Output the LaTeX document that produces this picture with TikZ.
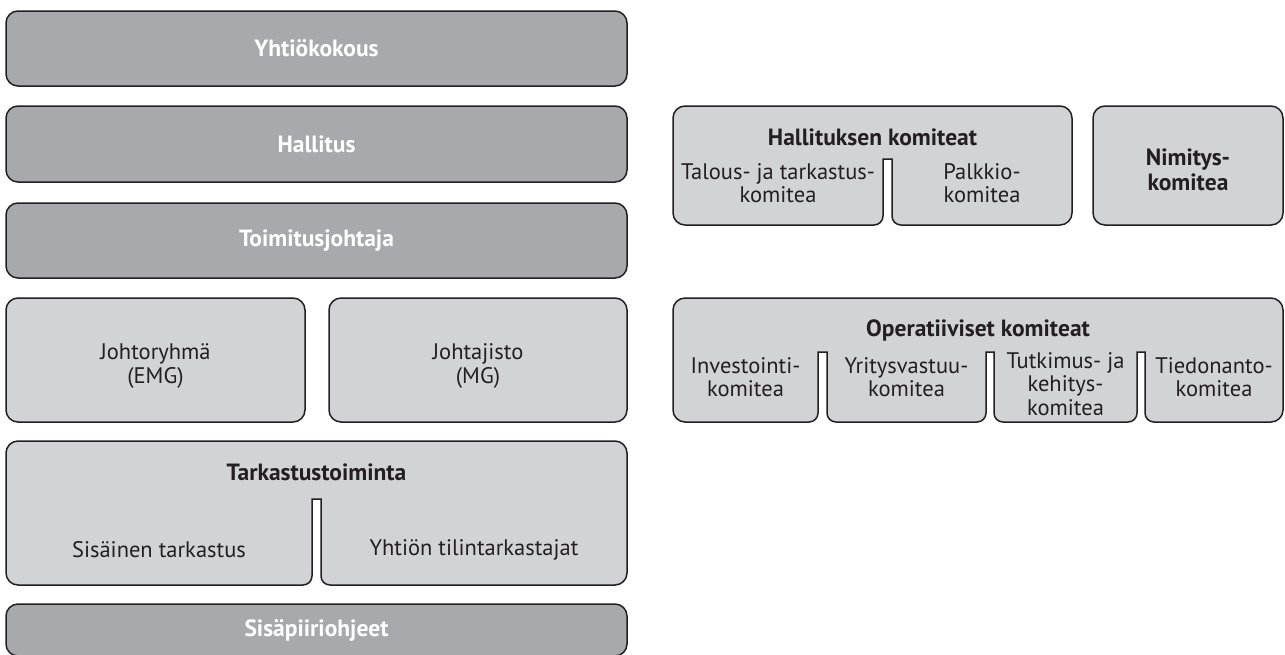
\documentclass[tikz,border=0pt]{standalone}
\usepackage{fontspec}
\setmainfont{PT Sans}
\definecolor{darkfill}{HTML}{A7A9AC}
\definecolor{lightfill}{HTML}{D1D3D4}
\definecolor{edgecol}{HTML}{231F20}
% outline pieces of a box whose lower edge is cut by notches (pixel units, y down)
\newcommand\BoxTop[4]{(#1,#3+12) .. controls (#1,#3+5.4) and (#1+5.4,#3) .. (#1+12,#3) -- (#2-12,#3) .. controls (#2-5.4,#3) and (#2,#3+5.4) .. (#2,#3+12) -- (#2,#4-12) .. controls (#2,#4-5.4) and (#2-5.4,#4) .. (#2-12,#4)}
\newcommand\BoxNotch[4]{-- (#2+9,#4) .. controls (#2+4,#4) and (#2,#4-4) .. (#2,#4-9) -- (#2,#3) -- (#1,#3) -- (#1,#4-9) .. controls (#1,#4-4) and (#1-4,#4) .. (#1-9,#4)}
\newcommand\BoxEnd[2]{-- (#1+12,#2) .. controls (#1+5.4,#2) and (#1,#2-5.4) .. (#1,#2-12) -- cycle}
\begin{document}
\begin{tikzpicture}[x=1pt,y=-1pt,
  plainbox/.style={draw=edgecol, line width=1.5pt, rounded corners=12pt, inner sep=0pt, align=center},
  darkbox/.style={plainbox, fill=darkfill, text=white, font=\bfseries\fontsize{23.5}{25}\selectfont},
  lightbox/.style={plainbox, fill=lightfill, text=edgecol, font=\fontsize{22.5}{24}\selectfont},
  notchbox/.style={draw=edgecol, line width=1.5pt, fill=lightfill},
  boxtitle/.style={text=edgecol, inner sep=0pt, font=\bfseries\fontsize{23.5}{25}\selectfont},
  boxtext/.style={text=edgecol, inner sep=0pt, align=center, font=\fontsize{22.5}{23.5}\selectfont}]
\useasboundingbox (0,0) rectangle (1285,654);
\clip (0,0) rectangle (1285,654);
% left column
\node[darkbox, minimum width=621pt, minimum height=75pt] (yk) at (316.5,48.5) {Yhtiökokous};
\node[darkbox, minimum width=621pt, minimum height=76pt] (hal) at (316.5,144) {Hallitus};
\node[darkbox, minimum width=621pt, minimum height=75pt] (tj) at (316.5,240.5) {Toimitusjohtaja};
\node[lightbox, minimum width=299pt, minimum height=124pt] (emg) at (155.5,360) {};
\node[boxtext] (emgt) at (155.5,366) {Johtoryhmä\\(EMG)};
\node[lightbox, minimum width=298pt, minimum height=124pt] (mg) at (478,360) {};
\node[boxtext] (mgt) at (478,366) {Johtajisto\\(MG)};
\draw[notchbox] \BoxTop{6}{627}{441}{585} \BoxNotch{312}{321}{499}{585} \BoxEnd{6}{585};
\node[boxtitle] (tark) at (316.5,472) {Tarkastustoiminta};
\node[boxtext] (sis) at (159,550) {Sisäinen tarkastus};
\node[boxtext] (tilin) at (474,550) {Yhtiön tilintarkastajat};
\node[darkbox, minimum width=621pt, minimum height=52pt] (sp) at (316.5,630) {Sisäpiiriohjeet};
% right column
\draw[notchbox] \BoxTop{673}{1072}{106}{225} \BoxNotch{883}{892}{159}{225} \BoxEnd{673}{225};
\node[boxtitle] (hk) at (872.5,137) {Hallituksen komiteat};
\node[boxtext] (tt) at (778,183) {Talous- ja tarkastus-\\komitea};
\node[boxtext] (pk) at (982,183) {Palkkio-\\komitea};
\node[lightbox, minimum width=190pt, minimum height=119pt] (nk) at (1188,165.5) {};
\node[boxtitle, align=center] (nkt) at (1188,170) {Nimitys-\\komitea};
\draw[notchbox] \BoxTop{673}{1283}{298}{422} \BoxNotch{1137}{1145}{352}{422} \BoxNotch{986}{994}{352}{422} \BoxNotch{818}{827}{352}{422} \BoxEnd{673}{422};
\node[boxtitle] (ok) at (978,330) {Operatiiviset komiteat};
\node[boxtext] (inv) at (745.5,377) {Investointi-\\komitea};
\node[boxtext] (yv) at (906.5,377) {Yritysvastuu-\\komitea};
\node[boxtext] (tk) at (1065.5,384) {Tutkimus- ja\\kehitys-\\komitea};
\node[boxtext] (tied) at (1214,377) {Tiedonanto-\\komitea};
\end{tikzpicture}
\end{document}
